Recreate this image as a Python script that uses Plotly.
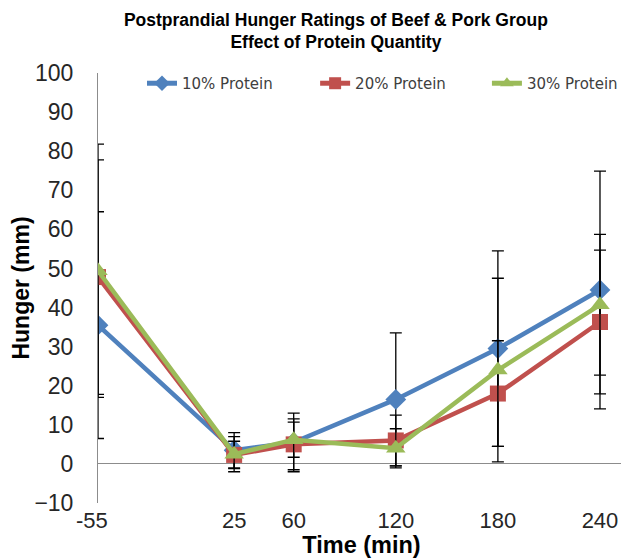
import plotly.graph_objects as go

time_min = [-55, 25, 60, 120, 180, 240]

hunger_10 = [35.5, 3.5, 5.5, 16.5, 29.5, 44.5]
err_10 = [29.0, 4.5, 7.5, 17.0, 25.0, 30.4]

hunger_20 = [47.8, 2.3, 5.0, 6.0, 18.0, 36.3]
err_20 = [30.0, 3.5, 6.5, 6.5, 13.5, 18.4]

hunger_30 = [49.4, 2.5, 6.2, 4.0, 24.0, 40.7]
err_30 = [32.4, 4.5, 4.5, 5.0, 23.5, 18.0]

# first label sits a little left of the axis in the original
tick_labels = ["-55" + "\u00a0" * 2, "25", "60", "120", "180", "240"]

fig = go.Figure()

series = [
    ("10% Protein", hunger_10, err_10, "#4F81BD", "diamond", 16, "legend"),
    ("20% Protein", hunger_20, err_20, "#C0504D", "square", 16, "legend2"),
    ("30% Protein", hunger_30, err_30, "#9BBB59", "triangle-up", 17, "legend3"),
]

for name, vals, errs, col, sym, size, leg in series:
    fig.add_trace(go.Scatter(
        x=time_min,
        y=vals,
        name=name,
        legend=leg,
        mode="lines+markers",
        line=dict(color=col, width=4.5),
        marker=dict(symbol=sym, size=size, color=col),
        error_y=dict(type="data", array=errs, visible=True,
                     color="black", thickness=1.3, width=6),
    ))

leg_font = dict(family="DejaVu Sans", size=15, color="#404040")

def leg(xpos):
    return dict(orientation="h", x=xpos, y=1.014, xanchor="left", yanchor="top",
                bgcolor="rgba(0,0,0,0)", font=leg_font, itemwidth=30,
                itemsizing="constant")

# page body has an 8px margin, so the figure is drawn 8px in and down
fig.update_layout(
    width=621, height=550,
    margin=dict(l=90, r=4, t=65, b=55),
    plot_bgcolor="white",
    paper_bgcolor="white",
    title=dict(
        text="Postprandial Hunger Ratings of Beef & Pork Group<br>Effect of Protein Quantity",
        x=0.528, xanchor="center", y=0.968, yanchor="middle",
        font=dict(family="Liberation Sans", size=17.5, color="black", weight="bold"),
    ),
    legend=leg(0.0835),
    legend2=leg(0.412),
    legend3=leg(0.738),
    showlegend=True,
)

fig.update_xaxes(
    range=[-55, 254.7],
    tickvals=time_min,
    ticktext=tick_labels,
    showgrid=False, zeroline=False, showline=False,
    ticks="",
    ticklabelstandoff=2,
    automargin=False,
    tickfont=dict(family="Liberation Sans", size=22, color="#262626"),
    title=dict(text="<b>Time (min)</b>", standoff=0,
               font=dict(family="Liberation Sans", size=23.5, color="black")),
)

fig.update_yaxes(
    range=[-10, 100],
    tickvals=list(range(-10, 101, 10)),
    showgrid=False,
    zeroline=True, zerolinecolor="#8C8C8C", zerolinewidth=1,
    showline=True, linecolor="#8C8C8C", linewidth=1,
    ticks="",
    ticklabelstandoff=19,
    automargin=False,
    tickfont=dict(family="Liberation Sans", size=23, color="#262626"),
    title=dict(text="<b>Hunger (mm)</b>", standoff=4,
               font=dict(family="Liberation Sans", size=23, color="black")),
)

fig.write_html("out.html")
